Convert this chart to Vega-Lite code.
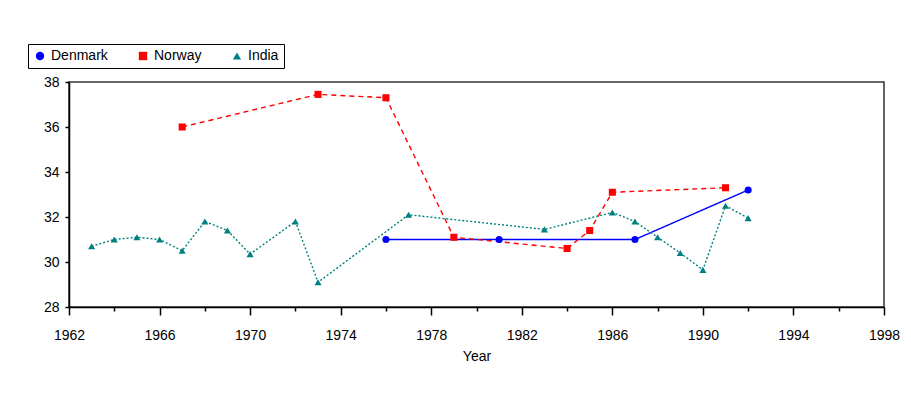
{
  "$schema": "https://vega.github.io/schema/vega-lite/v6.json",
  "autosize": {"type": "none"},
  "padding": {"left": 69, "top": 82, "right": 27, "bottom": 101},
  "width": 815,
  "height": 225,
  "background": "white",
  "config": {
    "font": "Liberation Sans",
    "view": {"stroke": "#333333", "strokeWidth": 1.5},
    "axis": {"labelFont": "Liberation Sans", "titleFont": "Liberation Sans", "labelFontSize": 14, "titleFontSize": 14, "titleFontWeight": "normal", "labelColor": "black", "titleColor": "black", "domainColor": "black", "tickColor": "black", "grid": false, "domainWidth": 1.5, "tickWidth": 1.5}
  },
  "data": {"values": [
    {"country": "Denmark", "year": 1976, "value": 31.0},
    {"country": "Denmark", "year": 1981, "value": 31.0},
    {"country": "Denmark", "year": 1987, "value": 31.0},
    {"country": "Denmark", "year": 1992, "value": 33.2},
    {"country": "Norway", "year": 1967, "value": 36.0},
    {"country": "Norway", "year": 1973, "value": 37.45},
    {"country": "Norway", "year": 1976, "value": 37.3},
    {"country": "Norway", "year": 1979, "value": 31.1},
    {"country": "Norway", "year": 1984, "value": 30.6},
    {"country": "Norway", "year": 1985, "value": 31.4},
    {"country": "Norway", "year": 1986, "value": 33.1},
    {"country": "Norway", "year": 1991, "value": 33.3},
    {"country": "India", "year": 1963, "value": 30.7},
    {"country": "India", "year": 1964, "value": 31.0},
    {"country": "India", "year": 1965, "value": 31.1},
    {"country": "India", "year": 1966, "value": 31.0},
    {"country": "India", "year": 1967, "value": 30.5},
    {"country": "India", "year": 1968, "value": 31.8},
    {"country": "India", "year": 1969, "value": 31.4},
    {"country": "India", "year": 1970, "value": 30.35},
    {"country": "India", "year": 1972, "value": 31.8},
    {"country": "India", "year": 1973, "value": 29.1},
    {"country": "India", "year": 1977, "value": 32.1},
    {"country": "India", "year": 1983, "value": 31.45},
    {"country": "India", "year": 1986, "value": 32.2},
    {"country": "India", "year": 1987, "value": 31.8},
    {"country": "India", "year": 1988, "value": 31.1},
    {"country": "India", "year": 1989, "value": 30.4},
    {"country": "India", "year": 1990, "value": 29.65},
    {"country": "India", "year": 1991, "value": 32.5},
    {"country": "India", "year": 1992, "value": 31.95}
  ]},
  "encoding": {
    "x": {"field": "year", "type": "quantitative", "title": "Year",
      "scale": {"domain": [1962, 1998], "nice": false, "zero": false},
      "axis": {"values": [1962,1964,1966,1968,1970,1972,1974,1976,1978,1980,1982,1984,1986,1988,1990,1992,1994,1996,1998],
        "labelExpr": "(datum.value - 1962) % 4 == 0 ? datum.label : ''",
        "format": "d",
        "tickSize": {"condition": {"test": "(datum.value - 1962) % 4 == 0", "value": 8}, "value": 4},
        "labelPadding": 13, "titlePadding": 7, "labelFlush": false}},
    "y": {"field": "value", "type": "quantitative", "title": null,
      "scale": {"domain": [28, 38], "nice": false, "zero": false},
      "axis": {"values": [28, 30, 32, 34, 36, 38], "tickSize": 4, "labelPadding": 6, "labelFlush": false}},
    "color": {"field": "country", "type": "nominal",
      "scale": {"domain": ["Denmark", "Norway", "India"], "range": ["#0000ff", "#ff0000", "#008080"]},
      "legend": {"orient": "none", "legendX": -41, "legendY": -38, "direction": "horizontal", "title": null,
        "strokeColor": "black", "padding": 5, "labelFontSize": 14, "labelColor": "black", "symbolSize": 70,
        "symbolStrokeWidth": 0, "columnPadding": 28, "labelOffset": 4}}
  },
  "layer": [
    {"mark": {"type": "line", "strokeWidth": 1.4},
     "encoding": {
       "strokeDash": {"field": "country", "type": "nominal",
         "scale": {"domain": ["Denmark", "Norway", "India"], "range": [[1, 0], [5, 4], [2, 2]]},
         "legend": null}
     }},
    {"mark": {"type": "point", "filled": true, "opacity": 1},
     "encoding": {
       "shape": {"field": "country", "type": "nominal",
         "scale": {"domain": ["Denmark", "Norway", "India"], "range": ["circle", "square", "triangle-up"]}},
       "size": {"value": 50}
     }}
  ]
}
